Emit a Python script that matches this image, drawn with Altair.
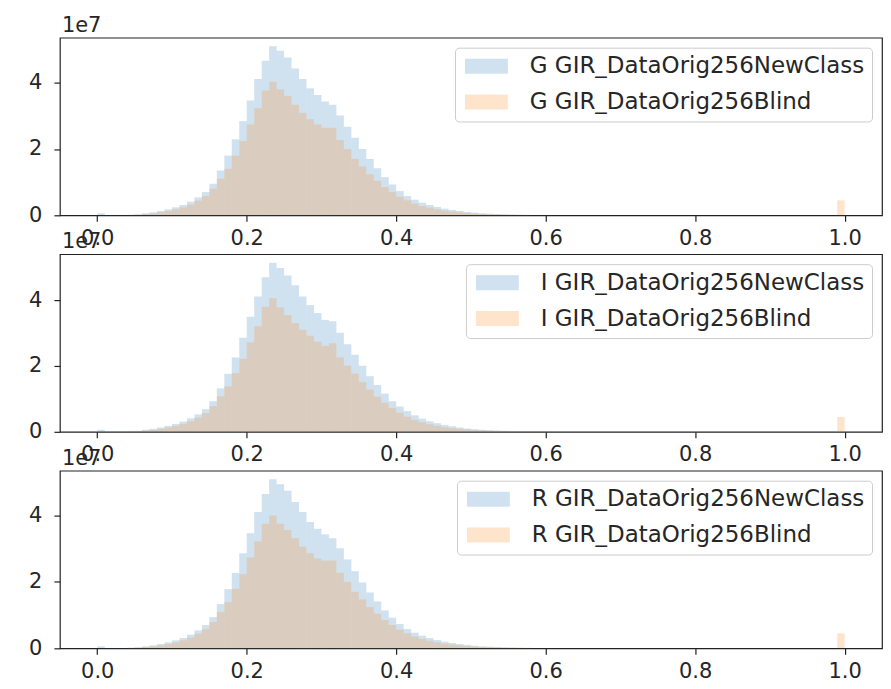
import altair as alt
import pandas as pd

# histogram bin edges (100 bins of width 0.01 on [0, 1])
bin_edges = [i / 100 for i in range(101)]

# counts per bin, in units of 1e7
g_newclass = [0.06, 0.01, 0.01, 0.01, 0.02, 0.03, 0.06, 0.09, 0.13, 0.18,
              0.24, 0.31, 0.41, 0.54, 0.70, 0.95, 1.35, 1.80, 2.29, 2.84,
              3.46, 4.11, 4.66, 5.10, 4.96, 4.76, 4.43, 4.11, 3.83, 3.63,
              3.43, 3.33, 3.01, 2.67, 2.34, 2.00, 1.70, 1.42, 1.15, 0.93,
              0.73, 0.58, 0.47, 0.38, 0.31, 0.25, 0.20, 0.16, 0.13, 0.10,
              0.08, 0.06, 0.05, 0.04, 0.03, 0.025, 0.02, 0.015, 0.01, 0.01,
              0.01] + [0] * 39
g_blind = [0, 0, 0, 0, 0.01, 0.02, 0.04, 0.06, 0.09, 0.13,
           0.18, 0.24, 0.32, 0.44, 0.58, 0.80, 1.10, 1.40, 1.80, 2.24,
           2.74, 3.23, 3.76, 4.03, 3.79, 3.59, 3.33, 3.09, 2.90, 2.74,
           2.64, 2.64, 2.27, 2.00, 1.70, 1.47, 1.24, 1.04, 0.85, 0.70,
           0.56, 0.45, 0.35, 0.28, 0.23, 0.18, 0.14, 0.11, 0.09, 0.07,
           0.05, 0.04, 0.03, 0.025, 0.02, 0.015, 0.01, 0.01] + [0] * 41 + [0.45]

i_newclass = [0.06, 0.01, 0.01, 0.01, 0.02, 0.03, 0.06, 0.09, 0.13, 0.18,
              0.24, 0.31, 0.41, 0.53, 0.69, 0.93, 1.32, 1.76, 2.26, 2.86,
              3.50, 4.11, 4.70, 5.14, 4.98, 4.75, 4.45, 4.11, 3.85, 3.61,
              3.40, 3.36, 3.01, 2.66, 2.34, 2.01, 1.69, 1.42, 1.16, 0.93,
              0.77, 0.63, 0.50, 0.40, 0.32, 0.26, 0.21, 0.17, 0.13, 0.10,
              0.08, 0.06, 0.05, 0.04, 0.03, 0.02, 0.015, 0.01, 0.01, 0.01,
              0.01] + [0] * 39
i_blind = [0, 0, 0, 0, 0.01, 0.02, 0.04, 0.06, 0.09, 0.13,
           0.18, 0.24, 0.32, 0.43, 0.57, 0.78, 1.08, 1.38, 1.78, 2.22,
           2.72, 3.21, 3.80, 4.06, 3.78, 3.55, 3.31, 3.10, 2.92, 2.74,
           2.61, 2.69, 2.26, 2.01, 1.77, 1.51, 1.28, 1.07, 0.88, 0.72,
           0.58, 0.46, 0.36, 0.29, 0.23, 0.18, 0.14, 0.11, 0.09, 0.07,
           0.05, 0.04, 0.03, 0.025, 0.02, 0.015, 0.01, 0.01] + [0] * 41 + [0.45]

r_newclass = [0.06, 0.01, 0.01, 0.01, 0.02, 0.03, 0.06, 0.09, 0.13, 0.18,
              0.24, 0.31, 0.41, 0.54, 0.70, 0.94, 1.33, 1.78, 2.27, 2.86,
              3.46, 4.10, 4.64, 5.09, 4.94, 4.74, 4.40, 4.10, 3.80, 3.60,
              3.43, 3.31, 3.01, 2.67, 2.32, 1.98, 1.68, 1.41, 1.14, 0.92,
              0.73, 0.58, 0.47, 0.38, 0.31, 0.25, 0.20, 0.16, 0.13, 0.10,
              0.08, 0.06, 0.05, 0.04, 0.03, 0.025, 0.02, 0.015, 0.01, 0.01,
              0.01] + [0] * 39
r_blind = [0, 0, 0, 0, 0.01, 0.02, 0.04, 0.06, 0.09, 0.13,
           0.18, 0.24, 0.32, 0.44, 0.58, 0.79, 1.09, 1.39, 1.79, 2.23,
           2.73, 3.22, 3.75, 4.00, 3.75, 3.56, 3.31, 3.06, 2.86, 2.70,
           2.64, 2.64, 2.27, 2.00, 1.70, 1.47, 1.24, 1.04, 0.85, 0.70,
           0.56, 0.45, 0.35, 0.28, 0.23, 0.18, 0.14, 0.11, 0.09, 0.07,
           0.05, 0.04, 0.03, 0.025, 0.02, 0.015, 0.01, 0.01] + [0] * 41 + [0.45]

x_ticks = [0.0, 0.2, 0.4, 0.6, 0.8, 1.0]
y_ticks = [0, 2e7, 4e7]

FONT = "DejaVu Sans"
BLUE = "#1f77b4"
ORANGE = "#ff7f0e"
ALPHA = 0.21
FS = 21


def panel(letter, new_vals, blind_vals):
    name_new = f"{letter} GIR_DataOrig256NewClass"
    name_blind = f"{letter} GIR_DataOrig256Blind"
    rows = []
    for name, vals in [(name_new, new_vals), (name_blind, blind_vals)]:
        for i, v in enumerate(vals):
            if v > 0:
                rows.append({"x0": bin_edges[i], "x1": bin_edges[i + 1],
                             "count": v * 1e7, "base": 0, "series": name})
    df = pd.DataFrame(rows)
    ymax = max(max(new_vals), max(blind_vals)) * 1.05e7

    bars = alt.Chart(df).mark_rect(opacity=ALPHA).encode(
        x=alt.X("x0:Q", title=None,
                scale=alt.Scale(domain=[-0.05, 1.05], nice=False, zero=False),
                axis=alt.Axis(values=x_ticks, format=".1f")),
        x2="x1:Q",
        y=alt.Y("count:Q", title=None,
                scale=alt.Scale(domain=[0, ymax], nice=False),
                axis=alt.Axis(values=y_ticks, labelExpr="format(datum.value / 1e7, 'd')")),
        y2="base:Q",
        color=alt.Color("series:N",
                        scale=alt.Scale(domain=[name_new, name_blind], range=[BLUE, ORANGE]),
                        legend=alt.Legend(title=None, orient="top-right", offset=10,
                                          fillColor="rgba(255,255,255,0.8)",
                                          strokeColor="#cccccc", cornerRadius=4,
                                          padding=7,
                                          symbolType="M-2,-0.7H2V0.7H-2Z",
                                          symbolSize=462, symbolOpacity=ALPHA,
                                          symbolStrokeWidth=0, symbolOffset=13,
                                          labelFont=FONT, labelFontSize=23,
                                          labelColor="#262626", labelOffset=32,
                                          rowPadding=12, labelLimit=0)),
    )
    offset_text = alt.Chart(pd.DataFrame({"t": ["1e7"]})).mark_text(
        align="left", baseline="alphabetic", font=FONT, fontSize=FS, color="#262626"
    ).encode(x=alt.value(2), y=alt.value(-6), text="t:N")

    return alt.layer(bars, offset_text).properties(width=824, height=178)


chart = alt.vconcat(
    panel("G", g_newclass, g_blind),
    panel("I", i_newclass, i_blind),
    panel("R", r_newclass, r_blind),
    spacing=39,
    bounds="flush",
).resolve_scale(
    color="independent", x="independent", y="independent"
).resolve_legend(
    color="independent"
).properties(
    padding={"left": 20, "top": 5, "right": 0, "bottom": 0},
    background="white",
).configure_view(
    stroke="#222222", strokeWidth=1.2
).configure_axis(
    domain=False, grid=False, tickColor="#222222", tickSize=6, tickWidth=1.2,
    labelFont=FONT, labelFontSize=FS, labelColor="#262626"
).configure_axisX(
    labelPadding=6
).configure_axisY(
    labelPadding=12, minExtent=30, maxExtent=30
)

chart.save("out.html", embed_options={"renderer": "svg", "actions": False})
